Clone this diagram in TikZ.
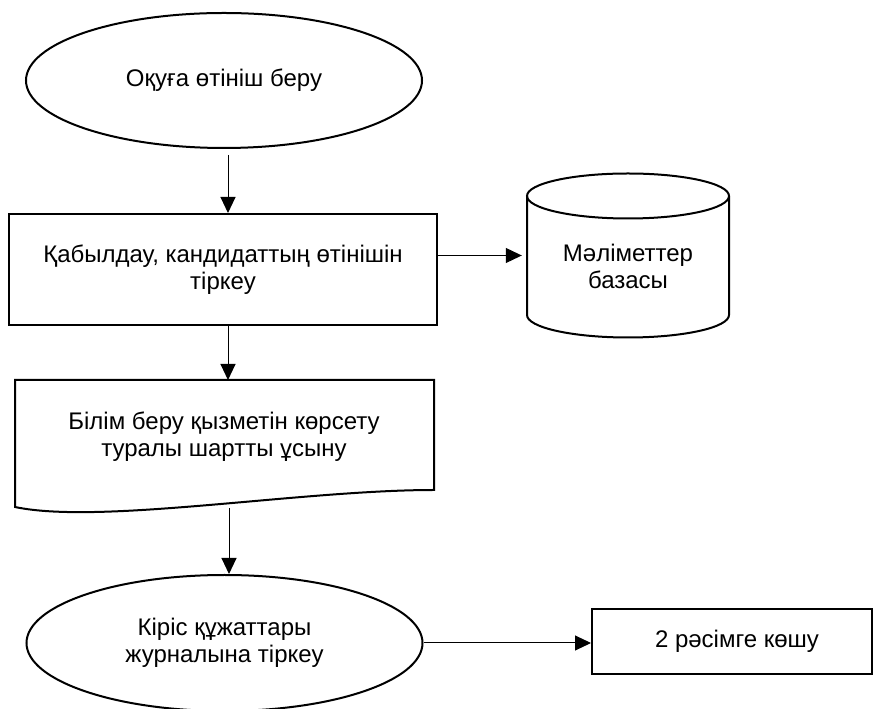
\documentclass[tikz,border=0pt]{standalone}
\usepackage{fontspec}
\setmainfont{Liberation Sans}
\usetikzlibrary{shapes.geometric,arrows.meta}
\begin{document}
\begin{tikzpicture}[x=1pt,y=1pt,
  shapeline/.style={draw=black,line width=2pt},
  txt/.style={font=\fontsize{24}{27.5}\selectfont,align=center,inner sep=0pt},
  arr/.style={draw=black,line width=1pt,-{Triangle[length=16pt,width=15pt]}},
]
\useasboundingbox (0,0) rectangle (875,709);
% start ellipse
\node[shapeline,txt,ellipse,minimum width=396,minimum height=135] (e1) at (224,628.5) {Оқуға өтініш беру};
% process rectangle
\node[shapeline,txt,rectangle,minimum width=428,minimum height=111] (r1) at (223,439.5) {Қабылдау, кандидаттың өтінішін\\тіркеу};
% database cylinder
\node[minimum width=202,minimum height=165,inner sep=0pt] (db) at (628,453.5) {};
\draw[shapeline] (527,513) -- (527,394) arc[start angle=180,end angle=360,x radius=101,y radius=22.5] -- (729,513);
\draw[shapeline] (628,513) ellipse[x radius=101,y radius=22.5];
\node[txt] (dbt) at (628,442.5) {Мәліметтер\\базасы};
% document shape
\node[minimum width=419,minimum height=134,inner sep=0pt] (docbox) at (224.5,262) {};
\draw[shapeline,line join=miter] (15,202) -- (15,329) -- (434,329) -- (434,219) .. controls (300,219) and (100,184) .. (15,202) -- cycle;
\node[txt] (doct) at (224,272.5) {Білім беру қызметін көрсету\\туралы шартты ұсыну};
% bottom ellipse
\node[shapeline,txt,ellipse,minimum width=396,minimum height=136] (e2) at (224.5,66) {Кіріс құжаттары\\журналына тіркеу};
% final box
\node[shapeline,txt,rectangle,minimum width=280,minimum height=65] (b2) at (732,67.5) {\hspace{10pt}2 рәсімге көшу};
% connector helpers
\coordinate (ax1) at (228,0);
\coordinate (ax3) at (229,0);
\coordinate (doctop) at (228,329);
\coordinate (docbot) at (229,201);
% connectors
\draw[arr] ([yshift=-6pt]e1.south -| ax1) -- (r1.north -| ax1);
\draw[arr] (r1.south -| ax1) -- (doctop);
\draw[arr] (docbot) -- (e2.north -| ax3);
\draw[arr] (r1.east |- db.west) -- ([xshift=-5pt]db.west);
\draw[arr] (e2.east) -- (e2.east -| b2.west);
\end{tikzpicture}
\end{document}
